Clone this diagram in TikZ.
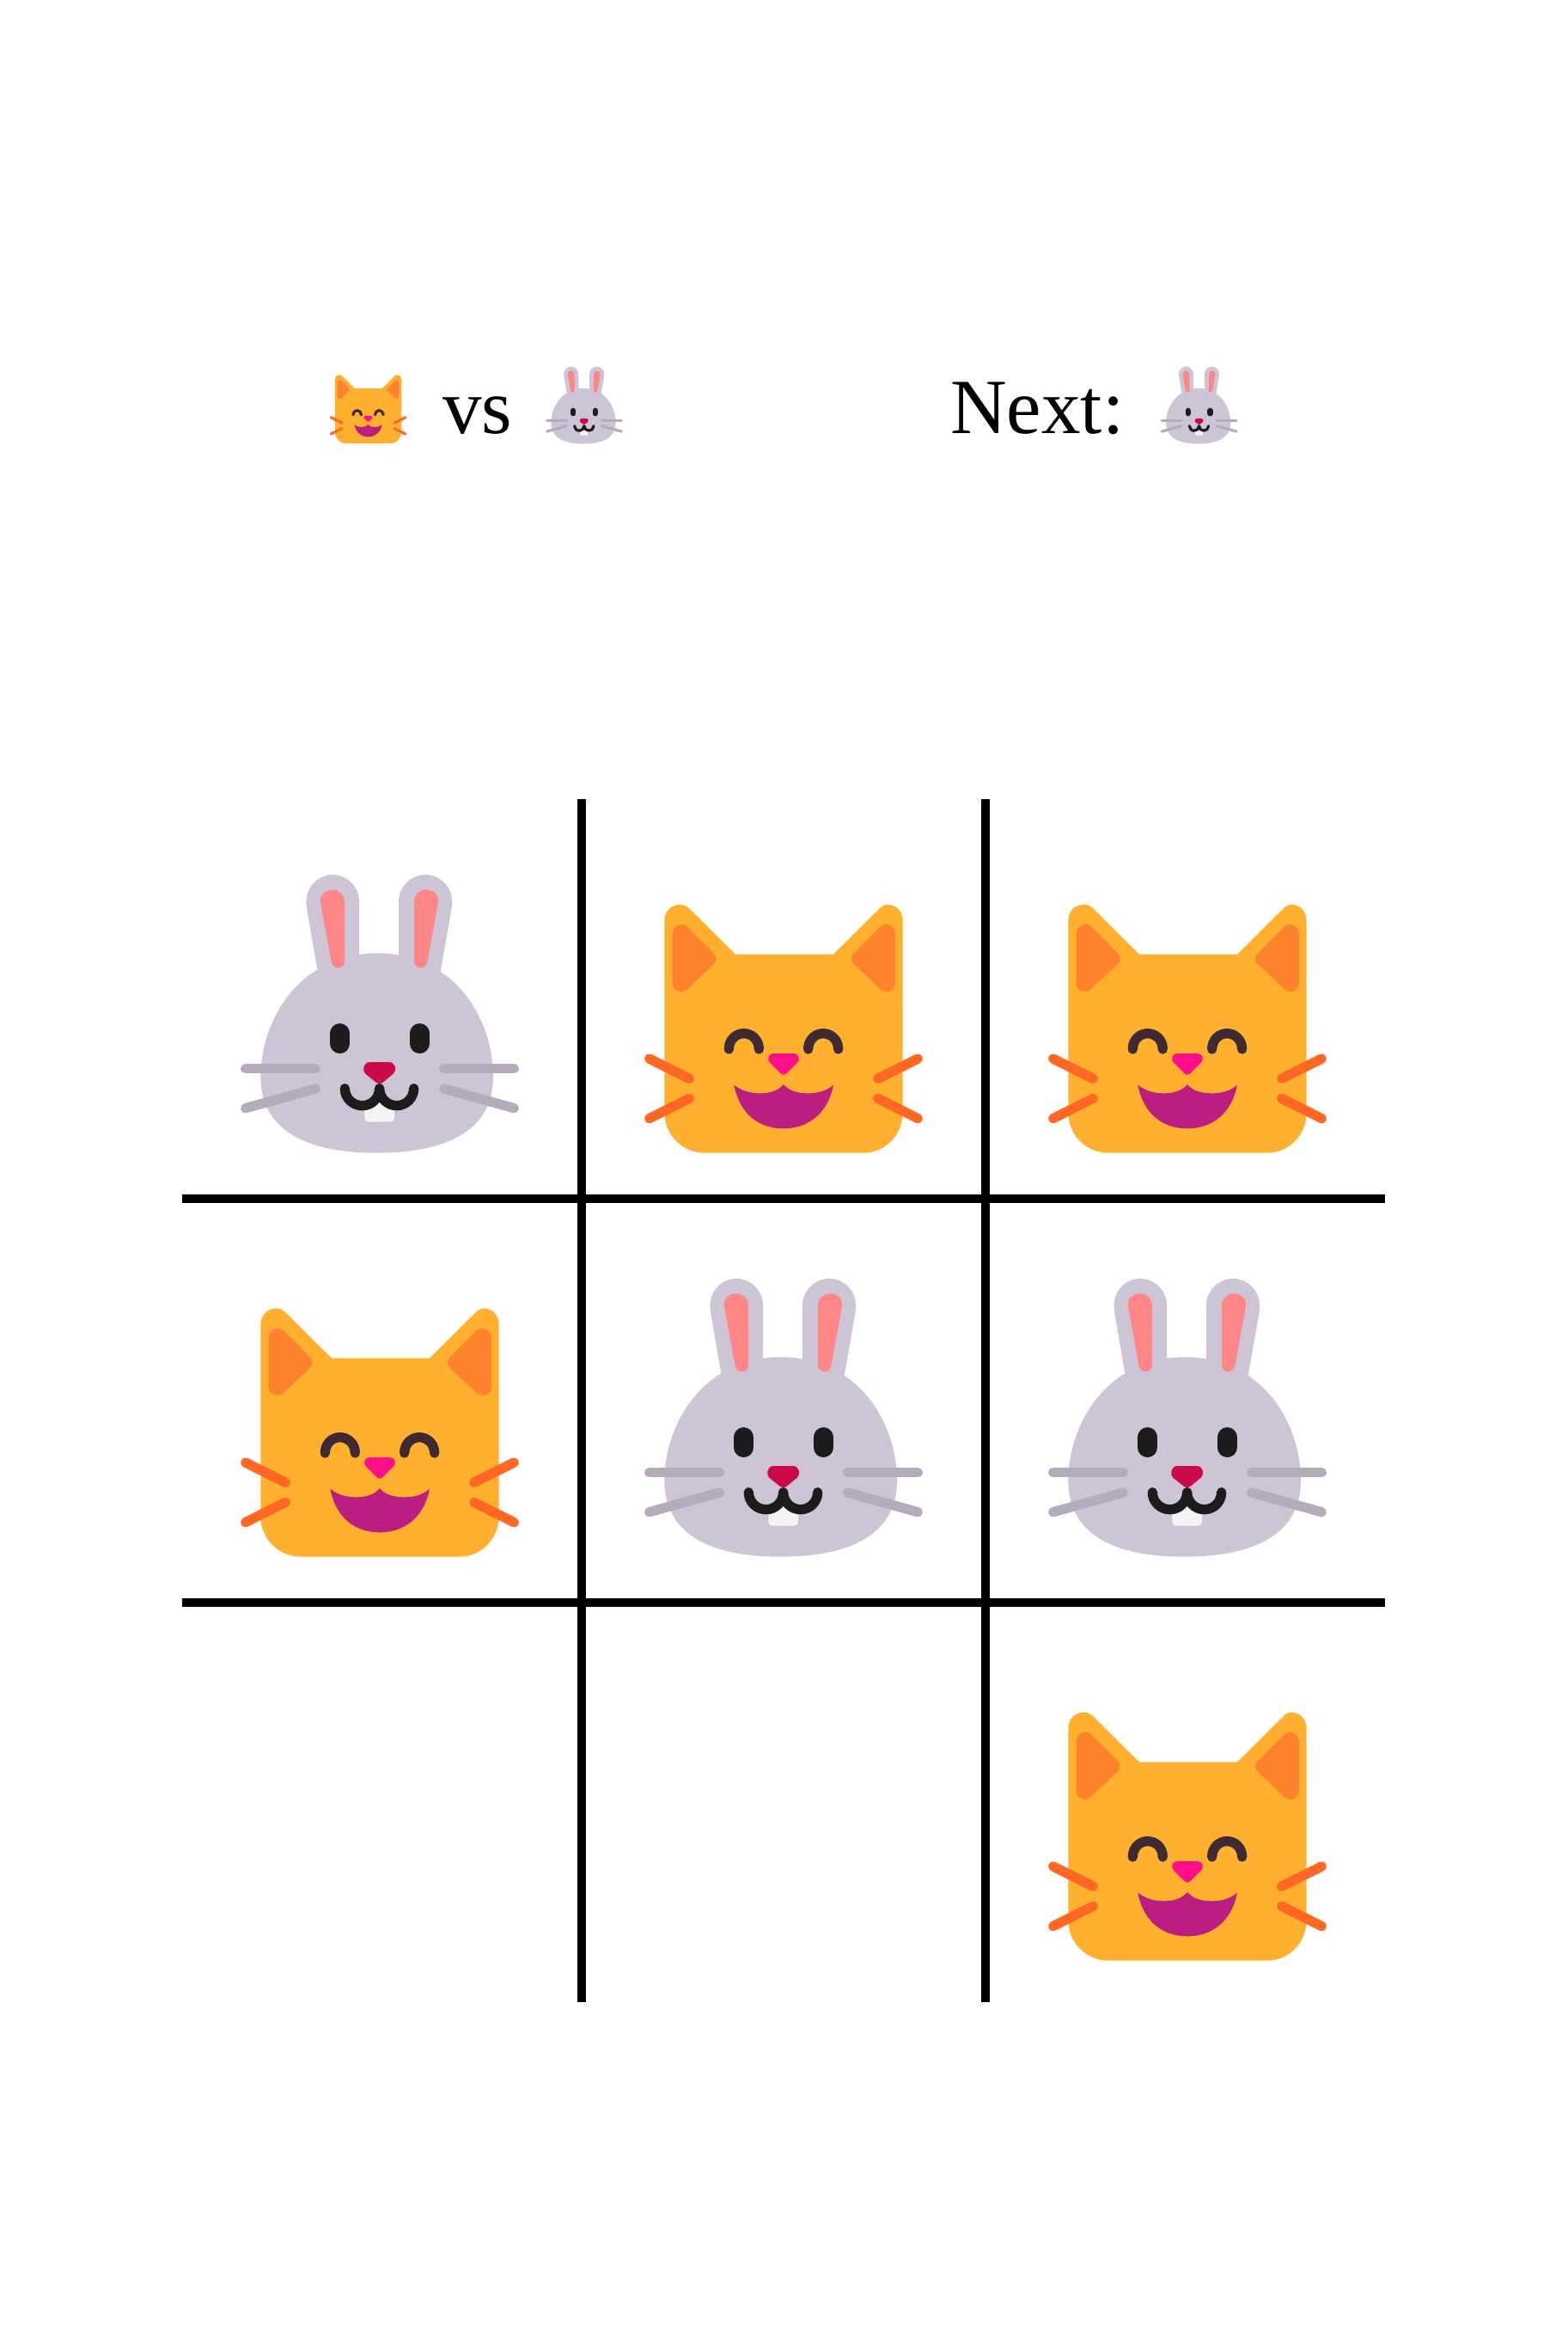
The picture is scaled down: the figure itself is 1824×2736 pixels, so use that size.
\documentclass[tikz,border=0pt]{standalone}
\usepackage{fontspec}
\setmainfont{Liberation Serif}
\definecolor{rabbitfur}{HTML}{CDC4D6}
\definecolor{rabbitear}{HTML}{FF8687}
\definecolor{rabbitnose}{HTML}{CA0B4A}
\definecolor{rabbitdark}{HTML}{1C1C1C}
\definecolor{rabbittooth}{HTML}{F4F4F4}
\definecolor{rabbitwhisker}{HTML}{B4ACBC}
\definecolor{catfur}{HTML}{FFB02E}
\definecolor{catear}{HTML}{FF822D}
\definecolor{cateye}{HTML}{402A32}
\definecolor{catnose}{HTML}{FF0E8C}
\definecolor{catmouth}{HTML}{BB1D80}
\definecolor{catwhisker}{HTML}{FF6723}
\tikzset{
  gridline/.style={line width=10pt,black,line cap=butt},
  label text/.style={inner sep=0pt,anchor=base west,font=\fontsize{91}{91}\selectfont},
  stroke round/.style={line cap=round,line join=round,fill=none}
}
\newcommand{\rabbitface}[3]{%
  \begin{scope}[shift={(#1,#2)},x=#3pt,y=-#3pt]
    \fill[rabbitfur] (328,385) -- (291,170)
      .. controls (280,105) and (325,54) .. (381,54)
      .. controls (432,54) and (474,96) .. (474,147)
      -- (474,332) .. controls (520,326) and (570,326) .. (612,335)
      -- (612,147) .. controls (612,96) and (655,54) .. (706,54)
      .. controls (762,54) and (808,105) .. (797,170)
      -- (758,393)
      .. controls (870,465) and (942,610) .. (942,760)
      .. controls (942,940) and (790,1025) .. (535,1025)
      .. controls (280,1025) and (130,940) .. (130,760)
      .. controls (130,610) and (205,460) .. (328,385) -- cycle;
    \fill[rabbitear] (339,152) .. controls (335,125) and (355,106) .. (381,106)
      .. controls (404,106) and (423,125) .. (423,148) -- (423,355)
      .. controls (423,385) and (382,387) .. (377,358) -- cycle;
    \fill[rabbitear] (750,152) .. controls (754,125) and (734,106) .. (708,106)
      .. controls (685,106) and (666,125) .. (666,148) -- (666,355)
      .. controls (666,385) and (707,387) .. (712,358) -- cycle;
    \draw[rabbitdark,stroke round,line width={70*#3 pt}] (407,608) -- (407,643);
    \draw[rabbitdark,stroke round,line width={70*#3 pt}] (685,608) -- (685,643);
    \fill[rabbittooth] (493,850) -- (597,850) -- (597,903)
      .. controls (597,911) and (591,917) .. (583,917) -- (507,917)
      .. controls (499,917) and (493,911) .. (493,903) -- cycle;
    \fill[rabbitnose] (512,708) -- (578,708)
      .. controls (600,708) and (608,735) .. (592,750) -- (558,778)
      .. controls (550,785) and (540,785) .. (532,778) -- (497,750)
      .. controls (482,735) and (490,708) .. (512,708) -- cycle;
    \draw[rabbitdark,stroke round,line width={34*#3 pt}]
      (424,800) .. controls (424,833) and (451,860) .. (485,860)
      .. controls (518,860) and (545,833) .. (545,800)
      .. controls (545,833) and (572,860) .. (605,860)
      .. controls (638,860) and (665,833) .. (665,800);
    \draw[rabbitwhisker,stroke round,line width={34*#3 pt}] (77,731) -- (322,731);
    \draw[rabbitwhisker,stroke round,line width={34*#3 pt}] (77,869) -- (322,801);
    \draw[rabbitwhisker,stroke round,line width={34*#3 pt}] (770,731) -- (1015,731);
    \draw[rabbitwhisker,stroke round,line width={34*#3 pt}] (770,801) -- (1015,869);
  \end{scope}}
\newcommand{\catface}[3]{%
  \begin{scope}[shift={(#1,#2)},x=#3pt,y=-#3pt]
    \fill[catfur] (100,95) .. controls (100,60) and (125,38) .. (155,38)
      .. controls (170,38) and (180,45) .. (190,55) -- (348,212) -- (690,212)
      -- (848,55) .. controls (858,45) and (868,38) .. (878,38)
      .. controls (908,38) and (932,60) .. (932,95) -- (932,765)
      .. controls (932,842) and (870,905) .. (795,905) -- (240,905)
      .. controls (163,905) and (100,842) .. (100,765) -- cycle;
    \fill[catear] (128,140) .. controls (128,112) and (160,98) .. (180,115)
      -- (270,205) .. controls (285,218) and (285,235) .. (270,248)
      -- (180,333) .. controls (160,352) and (128,340) .. (128,312) -- cycle;
    \fill[catear] (906,140) .. controls (906,112) and (874,98) .. (854,115)
      -- (764,205) .. controls (749,218) and (749,235) .. (764,248)
      -- (854,333) .. controls (874,352) and (906,340) .. (906,312) -- cycle;
    \draw[cateye,stroke round,line width={34*#3 pt}] (325,543)
      .. controls (325,510) and (350,488) .. (377,488)
      .. controls (405,488) and (430,510) .. (430,543);
    \draw[cateye,stroke round,line width={34*#3 pt}] (602,543)
      .. controls (602,510) and (627,488) .. (654,488)
      .. controls (682,488) and (707,510) .. (707,543);
    \fill[catnose] (480,558) -- (552,558)
      .. controls (568,558) and (576,578) .. (564,590) -- (528,626)
      .. controls (520,634) and (512,634) .. (504,626) -- (468,590)
      .. controls (456,578) and (464,558) .. (480,558) -- cycle;
    \fill[catmouth] (343,668) .. controls (375,692) and (405,697) .. (435,697)
      .. controls (470,697) and (498,687) .. (516,666)
      .. controls (534,687) and (562,697) .. (600,697)
      .. controls (630,697) and (662,692) .. (690,668)
      .. controls (670,770) and (600,820) .. (516,820)
      .. controls (430,820) and (363,770) .. (343,668) -- cycle;
    \draw[catwhisker,stroke round,line width={34*#3 pt}] (47,576) -- (187,646);
    \draw[catwhisker,stroke round,line width={34*#3 pt}] (47,785) -- (187,715);
    \draw[catwhisker,stroke round,line width={34*#3 pt}] (845,646) -- (985,576);
    \draw[catwhisker,stroke round,line width={34*#3 pt}] (845,715) -- (985,785);
  \end{scope}}
\begin{document}
\begin{tikzpicture}[x=1pt,y=-1pt]
  \useasboundingbox (0,0) rectangle (1824,2736);
  % grid
  \coordinate (v1top) at (677,930);
  \coordinate (v1bot) at (677,2330);
  \coordinate (v2top) at (1147,930);
  \coordinate (v2bot) at (1147,2330);
  \coordinate (h1left) at (212,1395);
  \coordinate (h1right) at (1612,1395);
  \coordinate (h2left) at (212,1865);
  \coordinate (h2right) at (1612,1865);
  \draw[gridline] (v1top) -- (v1bot);
  \draw[gridline] (v2top) -- (v2bot);
  \draw[gridline] (h1left) -- (h1right);
  \draw[gridline] (h2left) -- (h2right);
  % header
  \node[label text] (versus) at (515,504) {vs};
  \node[label text] (nextlabel) at (1106,504) {Next:};
  \catface{380.8}{432.5}{0.0925}
  \rabbitface{629.4}{421.6}{0.0926}
  \rabbitface{1345.1}{421.6}{0.0926}
  % board
  \rabbitface{260}{1000}{0.33333}
  \catface{740}{1040}{0.33333}
  \catface{1210}{1040}{0.33333}
  \catface{270}{1510}{0.33333}
  \rabbitface{730}{1470}{0.33333}
  \rabbitface{1200}{1470}{0.33333}
  \catface{1210}{1980}{0.33333}
\end{tikzpicture}
\end{document}
